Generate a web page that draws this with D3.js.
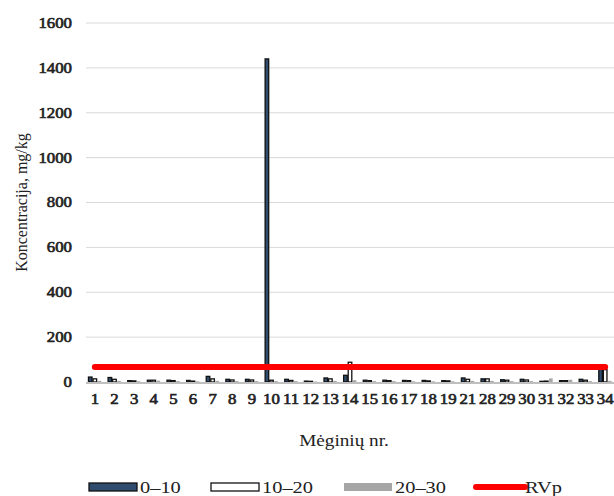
<!DOCTYPE html>
<html>
<head>
<meta charset="utf-8">
<script src="https://cdn.jsdelivr.net/npm/d3@7"></script>
<style>
  body { margin: 0; background: #fff; }
  svg text { font-family: "Liberation Serif", "Times New Roman", serif !important; }
</style>
</head>
<body>
<div id="chart"></div>
<script>
// sample numbers on x axis
const samples = ['1','2','3','4','5','6','7','8','9','10','11','12','13','14','15','16','17','18','19','21','28','29','30','31','32','33','34'];
// depth 0-10 cm
const depth0_10 = [22, 20, 6, 8, 8, 7, 25, 12, 12, 1440, 12, 4, 18, 30, 8, 8, 7, 7, 6, 18, 14, 10, 12, 3, 6, 12, 58];
// depth 10-20 cm
const depth10_20 = [14, 12, 5, 8, 6, 4, 14, 9, 9, 8, 7, 3, 14, 88, 6, 6, 6, 5, 5, 12, 14, 8, 9, 4, 6, 8, 55];
// depth 20-30 cm
const depth20_30 = [5, 5, 3, 6, 4, 3, 5, 4, 4, 4, 4, 2, 5, 8, 4, 4, 3, 3, 3, 5, 5, 4, 4, 16, 10, 4, 5];
const rvp = 67;
const yTicks = [0, 200, 400, 600, 800, 1000, 1200, 1400, 1600];
const seriesNames = ['0–10', '10–20', '20–30'];

const width = 614, height = 496;
const margin = { top: 23, left: 86, right: 0, bottom: 114 };

const svg = d3.select('#chart').append('svg')
  .attr('width', width)
  .attr('height', height);

const x = d3.scaleBand()
  .domain(samples)
  .range([margin.left, width - margin.right])
  .paddingInner(0.3)
  .paddingOuter(0.1);

const xSub = d3.scaleBand()
  .domain(seriesNames)
  .range([0, x.bandwidth()]);

const y = d3.scaleLinear()
  .domain([0, 1600])
  .range([height - margin.bottom, margin.top]);

// grid
svg.append('g')
  .selectAll('line')
  .data(yTicks.filter(d => d > 0))
  .join('line')
  .attr('x1', margin.left)
  .attr('x2', width - margin.right)
  .attr('y1', d => y(d))
  .attr('y2', d => y(d))
  .attr('stroke', '#d9d9d9')
  .attr('stroke-width', 1);

// y axis labels (bold faked with a thin stroke, so the serif face is kept)
const yAxis = d3.axisLeft(y).tickValues(yTicks).tickFormat(d3.format('d')).tickSize(0).tickPadding(14);
svg.append('g')
  .attr('class', 'stretch')
  .attr('transform', `translate(${margin.left},0)`)
  .call(yAxis)
  .call(g => g.select('.domain').remove())
  .selectAll('text')
  .attr('font-size', 14)
  .attr('fill', '#222')
  .attr('stroke', '#222')
  .attr('stroke-width', 0.6);

// bars
const colors = { '0–10': '#2f4b6e', '10–20': '#ffffff', '20–30': '#a6a6a6' };
const strokes = { '0–10': '#111', '10–20': '#111', '20–30': 'none' };
const allSeries = [depth0_10, depth10_20, depth20_30];

const groups = svg.append('g')
  .selectAll('g')
  .data(samples)
  .join('g')
  .attr('transform', d => `translate(${x(d)},0)`);

groups.selectAll('rect')
  .data((d, i) => seriesNames.map((s, k) => ({ s: s, v: allSeries[k][i] })))
  .join('rect')
  .attr('x', d => xSub(d.s) + 0.5)
  .attr('width', xSub.bandwidth() - 1)
  .attr('y', d => y(d.v))
  .attr('height', d => y(0) - y(d.v))
  .attr('fill', d => colors[d.s])
  .attr('stroke', d => strokes[d.s])
  .attr('stroke-width', 1.3);

// x axis baseline
svg.append('line')
  .attr('x1', margin.left)
  .attr('x2', width - margin.right)
  .attr('y1', y(0) + 1)
  .attr('y2', y(0) + 1)
  .attr('stroke', '#bfbfbf')
  .attr('stroke-width', 2);

// x axis labels
const xAxis = d3.axisBottom(x).tickSize(0).tickPadding(12);
svg.append('g')
  .attr('class', 'stretch')
  .attr('transform', `translate(0,${y(0)})`)
  .call(xAxis)
  .call(g => g.select('.domain').remove())
  .selectAll('text')
  .attr('font-size', 14)
  .attr('fill', '#222')
  .attr('stroke', '#222')
  .attr('stroke-width', 0.6);

// RVp line
const first = samples[0], last = samples[samples.length - 1];
svg.append('line')
  .attr('x1', x(first) + x.bandwidth() / 2)
  .attr('x2', x(last) + x.bandwidth() / 2)
  .attr('y1', y(rvp))
  .attr('y2', y(rvp))
  .attr('stroke', '#ff0000')
  .attr('stroke-width', 6)
  .attr('stroke-linecap', 'round');

// axis titles
svg.append('text')
  .attr('transform', `translate(27,${(margin.top + y(0)) / 2}) rotate(-90)`)
  .attr('text-anchor', 'middle')
  .attr('font-size', 16)
  .attr('fill', '#222')
  .text('Koncentracija, mg/kg');

svg.append('text')
  .attr('class', 'stretch')
  .attr('x', 344)
  .attr('y', 446)
  .attr('text-anchor', 'middle')
  .attr('font-size', 16)
  .attr('fill', '#222')
  .text('Mėginių nr.');

// legend
const legend = svg.append('g').attr('transform', 'translate(0,487)');
const legendItems = [
  { name: '0–10', x: 89, type: 'rect' },
  { name: '10–20', x: 211, type: 'rect' },
  { name: '20–30', x: 344, type: 'rect' },
  { name: 'RVp', x: 474, type: 'line' }
];
legendItems.forEach(item => {
  if (item.type === 'rect') {
    legend.append('rect')
      .attr('x', item.x)
      .attr('y', -4)
      .attr('width', 48)
      .attr('height', 8)
      .attr('fill', colors[item.name])
      .attr('stroke', strokes[item.name])
      .attr('stroke-width', 1.3);
  } else {
    legend.append('line')
      .attr('x1', item.x + 2)
      .attr('x2', item.x + 51)
      .attr('y1', 0)
      .attr('y2', 0)
      .attr('stroke', '#ff0000')
      .attr('stroke-width', 6)
      .attr('stroke-linecap', 'round');
  }
  legend.append('text')
    .attr('class', 'stretch')
    .attr('x', item.x + 51)
    .attr('y', 6)
    .attr('font-size', 17)
    .attr('fill', '#222')
    .text(item.name);
});

// the source picture is a bit wider than tall, widen the horizontal texts
svg.selectAll('.stretch text, text.stretch').each(function() {
  const len = this.getComputedTextLength();
  d3.select(this)
    .attr('textLength', len * 1.2)
    .attr('lengthAdjust', 'spacingAndGlyphs');
});
</script>
</body>
</html>
